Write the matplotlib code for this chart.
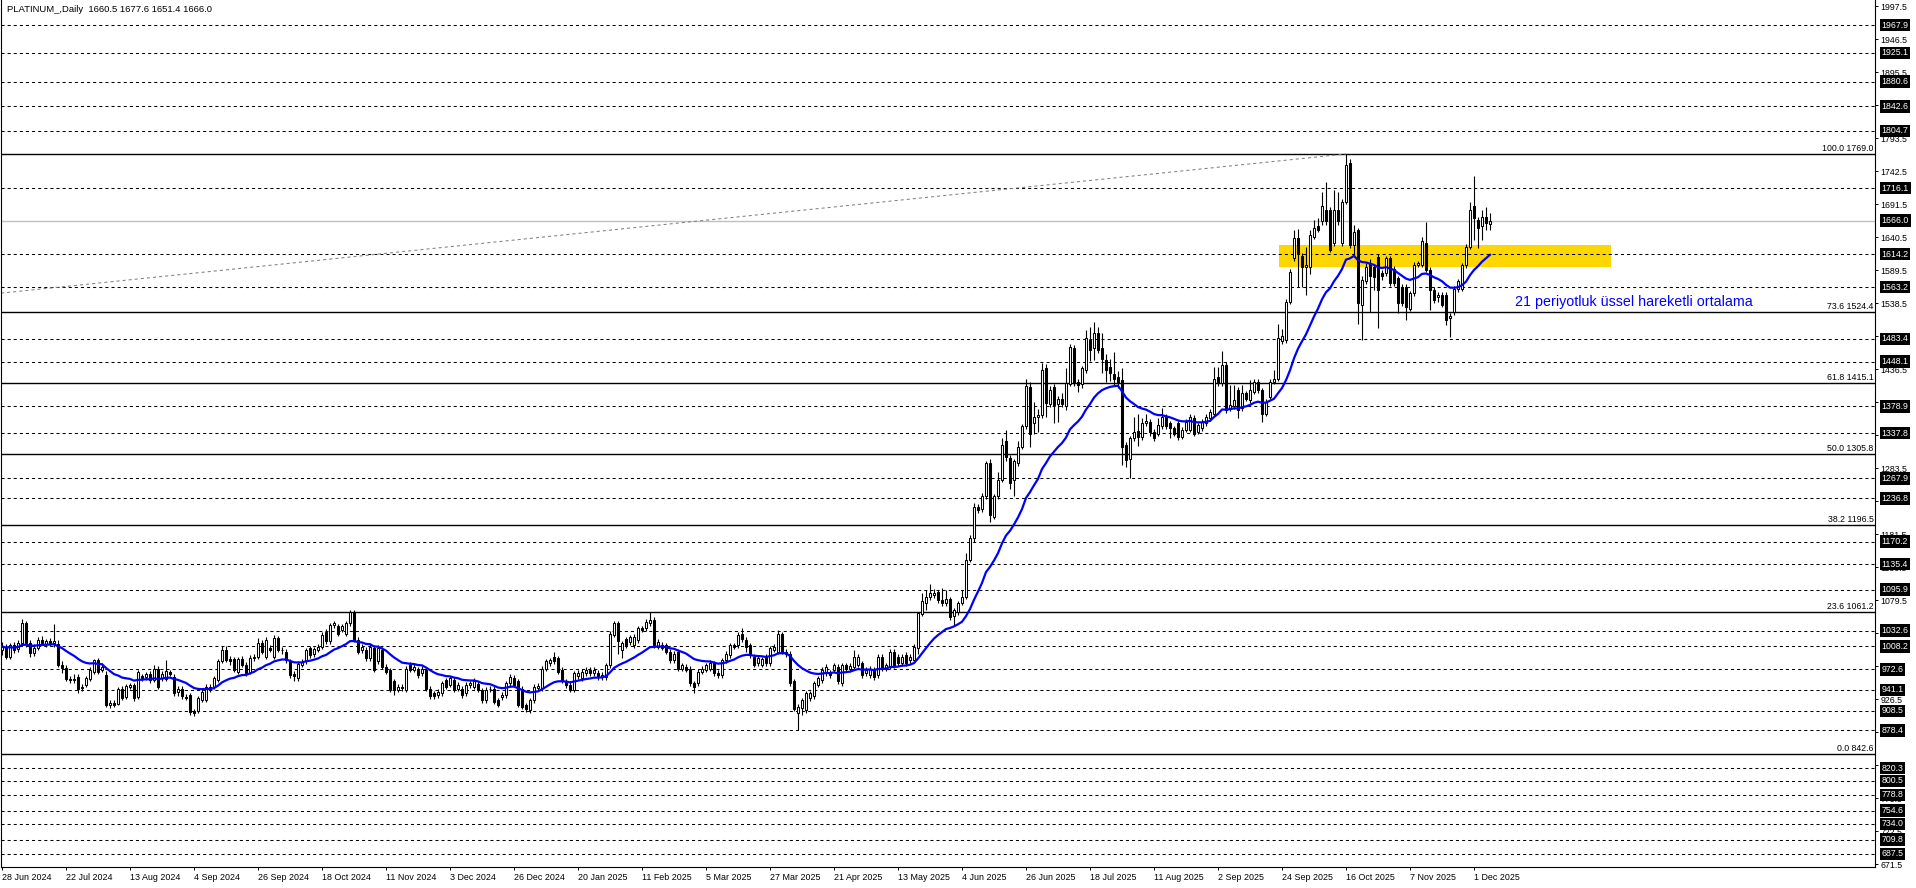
import matplotlib
matplotlib.use('Agg')
import matplotlib.pyplot as plt
import numpy as np
import pandas as pd
from matplotlib.patches import Rectangle

#%% Data (daily bars, PLATINUM_)

open_ = [
    1003, 1008, 992, 1010, 1004, 1014, 1044, 1014, 998, 1006,
    1018, 1012, 1016, 1013, 1012, 980, 975, 958, 957, 961,
    944, 948, 958, 969, 987, 972, 964, 918, 921, 920,
    943, 930, 946, 948, 930, 962, 961, 965, 957, 974,
    959, 958, 968, 961, 937, 943, 930, 933, 908, 909,
    925, 925, 945, 946, 956, 985, 1003, 988, 988, 969,
    989, 980, 968, 990, 992, 1013, 992, 1005, 992, 1021,
    1003, 1000, 985, 966, 959, 980, 985, 1005, 996, 1003,
    1008, 1031, 1016, 1041, 1039, 1034, 1028, 1044, 1062, 1018,
    1003, 1003, 990, 1005, 985, 1003, 977, 972, 954, 941,
    946, 941, 980, 972, 972, 967, 972, 943, 936, 933,
    936, 956, 949, 957, 943, 943, 936, 948, 946, 950,
    941, 925, 942, 943, 925, 930, 933, 951, 960, 954,
    943, 917, 910, 925, 944, 944, 974, 982, 992, 990,
    972, 954, 949, 941, 962, 959, 967, 972, 967, 967,
    961, 961, 979, 1026, 1044, 1003, 1019, 1015, 1010, 1018,
    1036, 1036, 1044, 1049, 1008, 1011, 1010, 1000, 987, 1000,
    974, 977, 974, 951, 951, 969, 972, 974, 982, 967,
    964, 987, 995, 1010, 1010, 1027, 1018, 1010, 992, 982,
    980, 992, 982, 1003, 1000, 1027, 1000, 997, 954, 905,
    913, 910, 928, 931, 949, 956, 967, 967, 972, 977,
    951, 979, 973, 977, 980, 982, 967, 964, 972, 964,
    992, 974, 977, 1000, 992, 982, 995, 987, 987, 1006,
    1059, 1076, 1085, 1088, 1093, 1080, 1076, 1081, 1055, 1062,
    1075, 1085, 1142, 1175, 1223, 1220, 1240, 1291, 1208, 1240,
    1266, 1325, 1299, 1265, 1291, 1317, 1348, 1409, 1353, 1362,
    1365, 1438, 1383, 1409, 1383, 1390, 1379, 1414, 1469, 1417,
    1413, 1435, 1482, 1470, 1492, 1470, 1450, 1440, 1429, 1425,
    1420, 1320, 1297, 1330, 1341, 1331, 1354, 1355, 1340, 1337,
    1348, 1363, 1353, 1345, 1353, 1332, 1343, 1343, 1361, 1340,
    1345, 1353, 1361, 1368, 1425, 1415, 1443, 1376, 1379, 1405,
    1376, 1399, 1389, 1402, 1417, 1404, 1368, 1394, 1417, 1422,
    1480, 1481, 1541, 1608, 1639, 1611, 1595, 1595, 1641, 1657,
    1665, 1682, 1682, 1631, 1682, 1631, 1695, 1755, 1628, 1651,
    1536, 1572, 1600, 1595, 1610, 1585, 1585, 1608, 1592, 1577,
    1564, 1564, 1530, 1554, 1598, 1598, 1631, 1590, 1559, 1548,
    1551, 1551, 1515, 1525, 1560, 1561, 1597, 1626, 1688, 1667,
    1657, 1672, 1660.5]

high = [
    1015, 1012, 1013, 1015, 1018, 1050, 1048, 1018, 1012, 1022,
    1024, 1020, 1021, 1043, 1018, 986, 980, 963, 966, 965,
    950, 963, 976, 989, 991, 982, 970, 926, 926, 946,
    947, 950, 952, 952, 972, 966, 968, 970, 980, 978,
    970, 987, 972, 966, 947, 947, 934, 936, 912, 932,
    943, 950, 950, 962, 989, 1009, 1009, 993, 992, 992,
    993, 984, 995, 997, 1021, 1018, 1022, 1010, 1026, 1025,
    1008, 1004, 988, 970, 985, 988, 1006, 1009, 1008, 1012,
    1030, 1035, 1045, 1048, 1043, 1043, 1048, 1065, 1064, 1022,
    1012, 1007, 1012, 1010, 1010, 1007, 981, 975, 958, 950,
    950, 978, 984, 981, 976, 978, 976, 947, 939, 942,
    955, 960, 963, 961, 953, 947, 953, 955, 959, 954,
    944, 945, 947, 947, 929, 937, 955, 966, 964, 958,
    947, 921, 929, 950, 951, 978, 989, 991, 1000, 994,
    976, 958, 953, 970, 971, 973, 976, 976, 976, 971,
    968, 983, 1032, 1048, 1048, 1017, 1023, 1026, 1027, 1040,
    1040, 1050, 1062, 1053, 1019, 1015, 1014, 1004, 1001, 1004,
    983, 981, 978, 955, 973, 978, 983, 987, 986, 971,
    991, 1001, 1014, 1014, 1030, 1036, 1022, 1014, 996, 994,
    992, 996, 1009, 1012, 1033, 1031, 1004, 1001, 958, 919,
    929, 940, 940, 955, 963, 976, 981, 971, 983, 981,
    983, 983, 982, 1003, 996, 986, 976, 978, 976, 996,
    996, 983, 1004, 1004, 996, 996, 999, 996, 1012, 1062,
    1090, 1095, 1104, 1097, 1096, 1099, 1095, 1085, 1068, 1079,
    1096, 1152, 1180, 1230, 1228, 1245, 1294, 1298, 1243, 1278,
    1330, 1342, 1304, 1298, 1325, 1352, 1422, 1417, 1386, 1375,
    1446, 1444, 1410, 1414, 1395, 1400, 1438, 1476, 1474, 1421,
    1442, 1497, 1502, 1510, 1502, 1492, 1460, 1452, 1463, 1433,
    1438, 1324, 1334, 1363, 1368, 1361, 1368, 1360, 1344, 1361,
    1376, 1367, 1357, 1349, 1357, 1347, 1359, 1368, 1365, 1354,
    1359, 1368, 1375, 1440, 1440, 1464, 1447, 1412, 1412, 1409,
    1412, 1403, 1420, 1422, 1421, 1408, 1390, 1421, 1435, 1507,
    1498, 1545, 1591, 1652, 1653, 1616, 1626, 1652, 1667, 1670,
    1711, 1726, 1687, 1713, 1711, 1700, 1769, 1762, 1660, 1655,
    1580, 1600, 1606, 1599, 1614, 1590, 1612, 1612, 1596, 1581,
    1568, 1568, 1558, 1602, 1604, 1641, 1664, 1594, 1563, 1556,
    1555, 1555, 1523, 1565, 1576, 1601, 1630, 1695, 1735, 1671,
    1682, 1687, 1677.6]

low = [
    995, 988, 988, 998, 1000, 1012, 1008, 992, 994, 1002,
    1010, 1008, 1009, 1008, 976, 967, 955, 952, 952, 936,
    940, 945, 955, 966, 966, 968, 914, 913, 914, 917,
    925, 927, 942, 924, 927, 955, 957, 952, 953, 942,
    955, 954, 962, 932, 932, 927, 925, 902, 901, 905,
    922, 922, 938, 942, 953, 982, 984, 980, 968, 966,
    976, 962, 965, 986, 988, 996, 989, 1000, 988, 999,
    997, 983, 960, 954, 955, 977, 981, 991, 992, 999,
    1004, 1012, 1012, 1036, 1024, 1030, 1024, 1040, 1015, 996,
    998, 986, 986, 968, 981, 973, 965, 937, 933, 937,
    940, 938, 968, 968, 960, 963, 940, 927, 927, 929,
    932, 942, 945, 937, 939, 929, 932, 944, 942, 937,
    921, 921, 938, 919, 914, 925, 929, 947, 945, 914,
    911, 907, 906, 921, 940, 940, 970, 978, 981, 965,
    952, 944, 937, 937, 958, 955, 963, 963, 963, 957,
    957, 957, 975, 1022, 997, 990, 1006, 1011, 1006, 1014,
    1030, 1032, 1040, 1006, 1004, 1002, 996, 983, 983, 970,
    970, 968, 947, 936, 947, 965, 968, 970, 963, 960,
    960, 983, 991, 1004, 1006, 1015, 1000, 991, 976, 978,
    976, 978, 978, 999, 996, 996, 992, 947, 908, 879,
    902, 906, 924, 927, 945, 952, 963, 960, 968, 950,
    947, 970, 969, 973, 976, 960, 963, 960, 956, 960,
    970, 970, 973, 975, 978, 978, 978, 983, 983, 996,
    1055, 1064, 1080, 1083, 1076, 1071, 1070, 1049, 1041, 1057,
    1072, 1082, 1138, 1170, 1215, 1216, 1236, 1201, 1205, 1236,
    1262, 1295, 1252, 1240, 1287, 1313, 1344, 1317, 1337, 1340,
    1361, 1363, 1378, 1353, 1355, 1378, 1374, 1410, 1410, 1402,
    1408, 1431, 1449, 1451, 1462, 1430, 1417, 1418, 1412, 1408,
    1288, 1285, 1268, 1326, 1318, 1327, 1349, 1334, 1325, 1333,
    1344, 1344, 1330, 1333, 1327, 1328, 1339, 1339, 1333, 1336,
    1341, 1349, 1357, 1364, 1411, 1411, 1369, 1372, 1375, 1361,
    1372, 1387, 1385, 1398, 1400, 1355, 1364, 1390, 1413, 1418,
    1476, 1477, 1537, 1604, 1564, 1564, 1551, 1583, 1637, 1648,
    1660, 1660, 1617, 1627, 1660, 1627, 1691, 1624, 1610, 1507,
    1482, 1568, 1525, 1559, 1500, 1575, 1581, 1565, 1565, 1523,
    1534, 1513, 1526, 1550, 1594, 1594, 1586, 1528, 1539, 1540,
    1532, 1505, 1487, 1521, 1556, 1557, 1593, 1622, 1636, 1623,
    1636, 1652, 1651.4]

close = [
    1008, 992, 1010, 1002, 1014, 1044, 1013, 998, 1006, 1018,
    1014, 1016, 1013, 1016, 980, 975, 958, 957, 958, 943,
    946, 959, 972, 987, 969, 977, 918, 921, 918, 943,
    928, 947, 949, 928, 969, 959, 965, 956, 974, 946,
    966, 970, 965, 936, 943, 931, 928, 907, 906, 929,
    938, 946, 941, 959, 985, 1003, 987, 985, 972, 988,
    980, 967, 991, 992, 1013, 1000, 1018, 1003, 1021, 1003,
    1002, 987, 964, 962, 981, 984, 1003, 995, 1004, 1008,
    1026, 1016, 1041, 1044, 1028, 1039, 1044, 1062, 1018, 1000,
    1007, 990, 1008, 972, 1005, 977, 969, 941, 941, 946,
    944, 974, 972, 977, 964, 974, 943, 931, 931, 938,
    951, 946, 959, 941, 949, 933, 949, 951, 955, 941,
    925, 941, 943, 923, 918, 933, 951, 961, 949, 918,
    915, 911, 925, 946, 947, 974, 985, 987, 985, 969,
    956, 948, 941, 967, 967, 969, 972, 967, 972, 961,
    964, 979, 1028, 1044, 1016, 1013, 1010, 1022, 1023, 1036,
    1034, 1046, 1049, 1010, 1015, 1006, 1000, 987, 997, 974,
    979, 972, 951, 946, 969, 974, 979, 983, 967, 964,
    987, 997, 1010, 1008, 1026, 1019, 1008, 995, 980, 990,
    988, 982, 1005, 1008, 1028, 1000, 996, 951, 912, 915,
    925, 936, 936, 951, 959, 972, 977, 964, 979, 954,
    979, 974, 978, 992, 992, 964, 972, 974, 961, 992,
    974, 979, 1000, 979, 982, 992, 982, 992, 1008, 1060,
    1078, 1085, 1091, 1091, 1080, 1076, 1082, 1053, 1064, 1075,
    1085, 1142, 1175, 1224, 1219, 1240, 1291, 1211, 1240, 1265,
    1319, 1301, 1260, 1294, 1317, 1348, 1410, 1337, 1363, 1365,
    1435, 1384, 1405, 1381, 1390, 1383, 1415, 1471, 1415, 1412,
    1438, 1484, 1466, 1493, 1466, 1453, 1436, 1430, 1422, 1417,
    1317, 1296, 1330, 1340, 1331, 1353, 1357, 1340, 1330, 1350,
    1363, 1348, 1345, 1337, 1332, 1343, 1355, 1363, 1337, 1350,
    1355, 1363, 1371, 1422, 1415, 1443, 1373, 1381, 1389, 1373,
    1399, 1391, 1404, 1417, 1404, 1368, 1386, 1417, 1422, 1484,
    1488, 1541, 1587, 1639, 1616, 1595, 1597, 1644, 1654, 1652,
    1688, 1665, 1621, 1682, 1665, 1695, 1752, 1628, 1649, 1538,
    1574, 1595, 1580, 1579, 1559, 1580, 1608, 1569, 1569, 1538,
    1538, 1533, 1554, 1598, 1600, 1634, 1590, 1559, 1543, 1551,
    1536, 1512, 1519, 1561, 1572, 1597, 1626, 1682, 1670, 1654,
    1672, 1662, 1666.0]

date_labels = ['28 Jun 2024', '22 Jul 2024', '13 Aug 2024', '4 Sep 2024', '26 Sep 2024',
               '18 Oct 2024', '11 Nov 2024', '3 Dec 2024', '26 Dec 2024', '20 Jan 2025',
               '11 Feb 2025', '5 Mar 2025', '27 Mar 2025', '21 Apr 2025', '13 May 2025',
               '4 Jun 2025', '26 Jun 2025', '18 Jul 2025', '11 Aug 2025', '2 Sep 2025',
               '24 Sep 2025', '16 Oct 2025', '7 Nov 2025', '1 Dec 2025']
label_step = 16

# horizontal levels drawn on the chart
hlines = [1967.9, 1925.1, 1880.6, 1842.6, 1804.7, 1716.1, 1614.2, 1563.2, 1483.4, 1448.1,
          1378.9, 1337.8, 1267.9, 1236.8, 1170.2, 1135.4, 1095.9, 1032.6, 1008.2, 972.6,
          941.1, 908.5, 878.4, 820.3, 800.5, 778.8, 754.6, 734.0, 709.8, 687.5]
fib_pct = ['0.0', '23.6', '38.2', '50.0', '61.8', '73.6', '100.0']
fib_price = [842.6, 1061.2, 1196.5, 1305.8, 1415.1, 1524.4, 1769.0]
last_price = 1666.0

# yellow zone and trendline
zone_bars = (319.25, 402.25)
zone_prices = (1594.0, 1628.4)
trend_x = [-0.25, 336]
trend_y = [1554.0, 1769.0]

ema_period = 21
ema_note = '21 periyotluk üssel hareketli ortalama'
title = 'PLATINUM_,Daily  1660.5 1677.6 1651.4 1666.0'

assert len(open_) == len(high) == len(low) == len(close)

#%% Plot

plt.rcParams['font.family'] = ['Liberation Sans', 'DejaVu Sans']
plt.rcParams['lines.scale_dashes'] = False

W, H = 1916, 888
fig = plt.figure(figsize=(W / 100, H / 100), dpi=100)
ax = fig.add_axes([1 / W, 21 / H, 1874 / W, 867 / H])

o = np.array(open_, float)
h = np.array(high, float)
l = np.array(low, float)
c = np.array(close, float)
x = np.arange(len(c))
up = c >= o

ema = pd.Series(c).ewm(span=ema_period, adjust=False).mean()

# zone
ax.add_patch(Rectangle((zone_bars[0], zone_prices[0]), zone_bars[1] - zone_bars[0],
                       zone_prices[1] - zone_prices[0], facecolor='#FFD700',
                       edgecolor='none', zorder=0.5))

dash = (0, (2.2, 2.2))
for lv in hlines:
    ax.axhline(lv, color='black', lw=0.75, ls=dash, zorder=1)
for lv in fib_price:
    ax.axhline(lv, color='black', lw=1.0, zorder=1)
ax.axhline(last_price, color='#C0C0C0', lw=1.0, zorder=1)
ax.plot(trend_x, trend_y, color='#808080', lw=0.75, ls=dash, zorder=1)

# candles
ax.vlines(x, l, h, color='black', lw=0.8, zorder=3)
body_lo = np.minimum(o, c)
body_h = np.maximum(np.abs(c - o), 0.6)
ax.bar(x[up], body_h[up], bottom=body_lo[up], width=0.55, facecolor='white',
       edgecolor='black', linewidth=0.75, zorder=4)
ax.bar(x[~up], body_h[~up], bottom=body_lo[~up], width=0.55, facecolor='black',
       edgecolor='black', linewidth=0.75, zorder=4)

ax.plot(x, ema, color='#0000FF', lw=1.6, zorder=5)

ax.set_xlim(-0.25, 468.25)
ax.set_ylim(667.4, 2006.9)

# axes styling
for s in ['left', 'bottom', 'right']:
    ax.spines[s].set_linewidth(0.8)
ax.spines['top'].set_visible(False)

ax.yaxis.tick_right()
ax.set_yticks(np.arange(671.5, 2000, 51))
ax.set_yticklabels([f'{v:.1f}' for v in np.arange(671.5, 2000, 51)])
ax.tick_params(axis='y', length=2.5, width=0.7, labelsize=6.3, pad=1.5)

ax.set_xticks(np.arange(len(date_labels)) * label_step)
ax.set_xticklabels(date_labels, ha='left')
ax.tick_params(axis='x', length=2.5, width=0.7, labelsize=6.4, pad=1.5)

ytr = ax.get_yaxis_transform()
for lv in hlines + [last_price]:
    ax.text(1.0035, lv, f'{lv:.1f}', transform=ytr, ha='left', va='center',
            fontsize=6.3, color='white', clip_on=False, zorder=10,
            bbox=dict(boxstyle='square,pad=0.2', fc='black', ec='none'))
for pct, lv in zip(fib_pct, fib_price):
    ax.text(0.9992, lv + 1.5, f'{pct} {lv:.1f}', transform=ytr, ha='right', va='bottom',
            fontsize=6.3, color='black', zorder=6)

ax.text(378.25, 1540.3, ema_note, color='#0000FF', fontsize=10.3, va='center', ha='left',
        zorder=6)
fig.text(7 / W, 1 - 10 / H, title, fontsize=6.8, va='center', ha='left')

plt.savefig('out.png', dpi=100)
